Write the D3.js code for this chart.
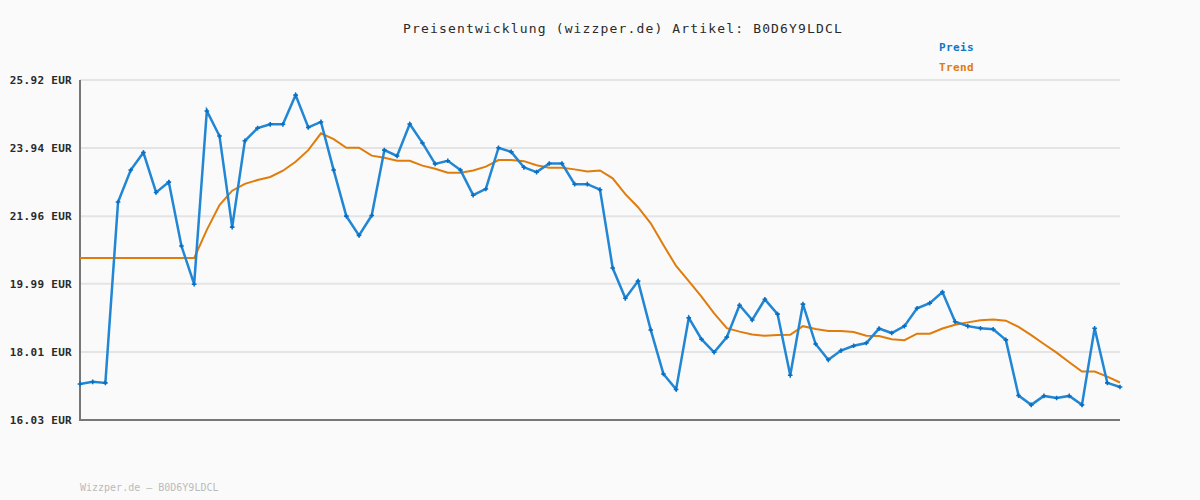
<!DOCTYPE html>
<html>
<head>
<meta charset="utf-8">
<script src="https://cdn.jsdelivr.net/npm/d3@7"></script>
<style>
  html, body { margin: 0; padding: 0; background: #fafafa; }
  svg { display: block; }
</style>
</head>
<body>
<svg id="chart" width="1200" height="500"></svg>
<script>
const titleText = "Preisentwicklung (wizzper.de) Artikel: B0D6Y9LDCL";
const footerText = "Wizzper.de – B0D6Y9LDCL";
const seriesNames = ["Preis", "Trend"];
const yTicks = [16.03, 18.01, 19.99, 21.96, 23.94, 25.92];

const preis = [
  17.08, 17.14, 17.11, 22.37, 23.30, 23.81, 22.65, 22.95, 21.09, 19.98,
  25.02, 24.29, 21.64, 24.15, 24.52, 24.63, 24.63, 25.48, 24.54, 24.70,
  23.30, 21.96, 21.40, 21.98, 23.88, 23.71, 24.64, 24.09, 23.48, 23.57,
  23.30, 22.57, 22.75, 23.95, 23.83, 23.38, 23.24, 23.49, 23.49, 22.89,
  22.89, 22.73, 20.45, 19.57, 20.07, 18.65, 17.37, 16.92, 19.00, 18.38,
  18.00, 18.44, 19.37, 18.94, 19.54, 19.11, 17.33, 19.40, 18.24, 17.78,
  18.05, 18.19, 18.27, 18.69, 18.56, 18.76, 19.28, 19.43, 19.75, 18.89,
  18.76, 18.70, 18.67, 18.36, 16.74, 16.47, 16.73, 16.67, 16.73, 16.47,
  18.70, 17.11, 16.99
];

const trend = [
  20.74, 20.74, 20.74, 20.74, 20.74, 20.74, 20.74, 20.74, 20.74, 20.74,
  21.56, 22.28, 22.70, 22.90, 23.01, 23.10, 23.28, 23.54, 23.88, 24.37,
  24.20, 23.95, 23.95, 23.72, 23.66, 23.57, 23.57, 23.43, 23.34, 23.22,
  23.22, 23.29, 23.40, 23.59, 23.59, 23.56, 23.44, 23.37, 23.37, 23.32,
  23.26, 23.29, 23.06, 22.60, 22.22, 21.75, 21.12, 20.51, 20.07, 19.62,
  19.13, 18.70, 18.60, 18.52, 18.48, 18.50, 18.51, 18.76, 18.68, 18.62,
  18.62, 18.59, 18.48, 18.47, 18.38, 18.35, 18.54, 18.54, 18.69, 18.80,
  18.87, 18.93, 18.95, 18.92, 18.74, 18.50, 18.24, 17.99, 17.71, 17.44,
  17.44, 17.29, 17.12
];

const svg = d3.select("#chart");
const mLeft = 80, mRight = 1120, mTop = 80, mBottom = 420;

svg.append("rect").attr("width", 1200).attr("height", 500).attr("fill", "#fafafa");

const x = d3.scaleLinear().domain([0, preis.length - 1]).range([mLeft, mRight]);
const y = d3.scaleLinear().domain([yTicks[0], yTicks[yTicks.length - 1]]).range([mBottom, mTop]);

// gridlines
svg.append("g").selectAll("line").data(yTicks.slice(1)).join("line")
  .attr("x1", mLeft).attr("x2", mRight)
  .attr("y1", d => y(d)).attr("y2", d => y(d))
  .attr("stroke", "#e4e4e4").attr("stroke-width", 2);

// y axis labels
const yAxis = d3.axisLeft(y).tickValues(yTicks).tickSize(0).tickPadding(8)
  .tickFormat(d => d.toFixed(2) + " EUR");
const gy = svg.append("g").attr("transform", `translate(${mLeft},0)`).call(yAxis);
gy.select(".domain").remove();
gy.selectAll("text")
  .attr("font-family", "'DejaVu Sans Mono', monospace")
  .attr("font-size", 11).attr("font-weight", "bold")
  .attr("letter-spacing", 0.3)
  .attr("fill", "#2a2a2a");

// axis lines
svg.append("line").attr("x1", mLeft).attr("x2", mLeft).attr("y1", mTop).attr("y2", mBottom + 1)
  .attr("stroke", "#777").attr("stroke-width", 2);
svg.append("line").attr("x1", mLeft - 1).attr("x2", mRight).attr("y1", mBottom).attr("y2", mBottom)
  .attr("stroke", "#777").attr("stroke-width", 2);

const lineGen = d3.line().x((d, i) => x(i)).y(d => y(d));

svg.append("path").datum(trend).attr("d", lineGen)
  .attr("fill", "none").attr("stroke", "#e07c0c").attr("stroke-width", 2);

svg.append("path").datum(preis).attr("d", lineGen)
  .attr("fill", "none").attr("stroke", "#2186d4").attr("stroke-width", 2.5);

svg.append("g").selectAll("path").data(preis).join("path")
  .attr("transform", (d, i) => `translate(${x(i)},${y(d)})`)
  .attr("d", d3.symbol().type(d3.symbolCross).size(12))
  .attr("fill", "#0a6fc0");

// title
svg.append("text").attr("x", 623).attr("y", 33).attr("text-anchor", "middle")
  .attr("font-family", "'DejaVu Sans Mono', monospace").attr("font-size", 13)
  .attr("letter-spacing", 1.15).attr("fill", "#2a2a2a").text(titleText);

// legend
const legendColors = ["#0a78c8", "#e07c0c"];
svg.append("g").selectAll("text").data(seriesNames).join("text")
  .attr("x", 939).attr("y", (d, i) => 51 + i * 20)
  .attr("font-family", "'DejaVu Sans Mono', monospace").attr("font-size", 11)
  .attr("font-weight", "bold").attr("letter-spacing", 0.4)
  .attr("fill", (d, i) => legendColors[i]).text(d => d);

// footer
svg.append("text").attr("x", 80).attr("y", 491)
  .attr("font-family", "'DejaVu Sans Mono', monospace").attr("font-size", 10)
  .attr("fill", "#bbb").text(footerText);
</script>
</body>
</html>
